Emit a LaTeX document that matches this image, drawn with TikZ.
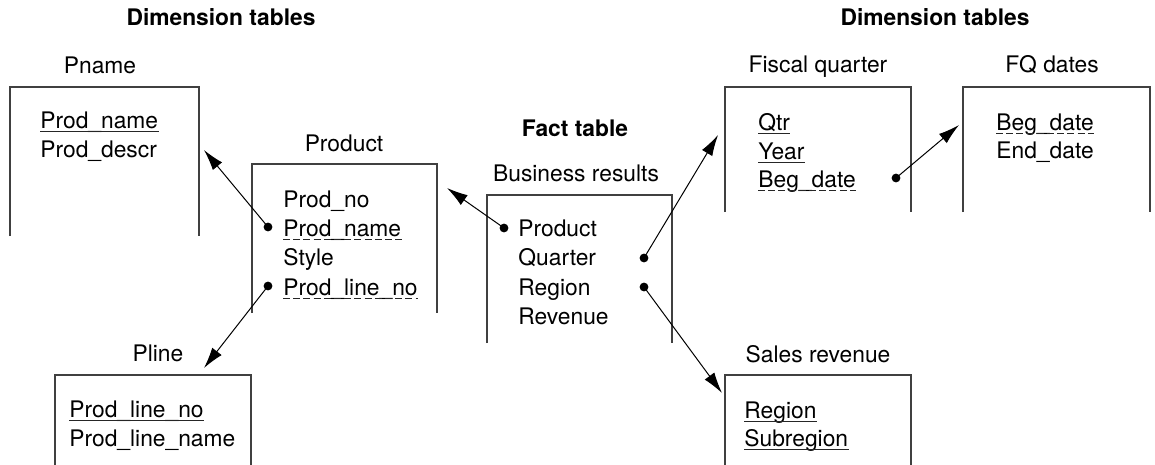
\documentclass[tikz,border=0pt]{standalone}
\usepackage{fontspec}
\setmainfont{TeX Gyre Heros}
\usetikzlibrary{arrows.meta,calc,positioning}

\begin{document}
\begin{tikzpicture}[x=0.5pt, y=-0.5pt, font=\fontsize{11.4}{13}\selectfont,
  box/.style={line width=0.6pt, black!75},
  fld/.style={anchor=base west, inner sep=0pt},
  ttl/.style={anchor=base, inner sep=0pt},
  head/.style={anchor=base, inner sep=0pt, font=\fontsize{11.4}{13}\selectfont\bfseries},
  key/.style={line width=0.5pt, black!85},
  fkey/.style={line width=0.5pt, black!85, dash pattern=on 3.5pt off 1.6pt},
  dot/.style={circle, fill, inner sep=0pt, minimum size=4.4pt},
  link/.style={-{Latex[length=10.5pt,width=6pt]}, line width=0.5pt}]
\useasboundingbox (0,0) rectangle (1155,465);

% Headings
\node[head] (dimL) at (221,26) {Dimension tables};
\node[head] (dimR) at (935,26) {Dimension tables};
\node[head] (fact) at (575,136) {Fact table};

% Pname
\node[ttl] (pnameT) at (100,74) {Pname};
\draw[box] (10,236) -- (10,87) -- (199,87) -- (199,236);
\node[fld] (pn1) at (40,128) {Prod\_name};
\node[fld] (pn2) at (40,157) {Prod\_descr};
\draw[key] ([yshift=-1.5pt]pn1.base west) -- ([yshift=-1.5pt]pn1.base east);
\coordinate (pnameIn) at (204,150);

% Product
\node[ttl] (prodT) at (344,151) {Product};
\draw[box] (252,313) -- (252,164) -- (437,164) -- (437,313);
\node[fld] (pr1) at (283,207) {Prod\_no};
\node[fld] (pr2) at (283,236) {Prod\_name};
\node[fld] (pr3) at (283,265) {Style};
\node[fld] (pr4) at (283,295) {Prod\_line\_no};
\draw[fkey] ([yshift=-1.5pt]pr2.base west) -- ([yshift=-1.5pt]pr2.base east);
\draw[fkey] ([yshift=-1.5pt]pr4.base west) -- ([yshift=-1.5pt]pr4.base east);
\node[dot] (dpr2) at (268,227) {};
\node[dot] (dpr4) at (268,286) {};
\coordinate (prodIn) at (447,188);

% Pline
\node[ttl] (plineT) at (158,361) {Pline};
\draw[box] (55,465) -- (55,375) -- (251,375) -- (251,465);
\node[fld] (pl1) at (69,417) {Prod\_line\_no};
\node[fld] (pl2) at (69,446) {Prod\_line\_name};
\draw[key] ([yshift=-1.5pt]pl1.base west) -- ([yshift=-1.5pt]pl1.base east);
\coordinate (plineIn) at (204,368);

% Business results
\node[ttl] (busT) at (576,181) {Business results};
\draw[box] (487,343) -- (487,195) -- (672,195) -- (672,343);
\node[fld] (br1) at (518,236) {Product};
\node[fld] (br2) at (518,265) {Quarter};
\node[fld] (br3) at (518,295) {Region};
\node[fld] (br4) at (518,324) {Revenue};
\node[dot] (dbr1) at (504,228) {};
\node[dot] (dbr2) at (644,258) {};
\node[dot] (dbr3) at (644,287) {};

% Fiscal quarter
\node[ttl] (fqT) at (818,73) {Fiscal quarter};
\draw[box] (725,212) -- (725,87) -- (911,87) -- (911,212);
\node[fld] (fq1) at (758,130) {Qtr};
\node[fld] (fq2) at (758,159) {Year};
\node[fld] (fq3) at (758,187) {Beg\_date};
\draw[key] ([yshift=-1.5pt]fq1.base west) -- ([yshift=-1.5pt]fq1.base east);
\draw[key] ([yshift=-1.5pt]fq2.base west) -- ([yshift=-1.5pt]fq2.base east);
\draw[fkey] ([yshift=-1.5pt]fq3.base west) -- ([yshift=-1.5pt]fq3.base east);
\node[dot] (dfq3) at (896,178) {};
\coordinate (fqIn) at (718,135);

% FQ dates
\node[ttl] (fdT) at (1052,73) {FQ dates};
\draw[box] (963,212) -- (963,87) -- (1150,87) -- (1150,212);
\node[fld] (fd1) at (996,130) {Beg\_date};
\node[fld] (fd2) at (996,158) {End\_date};
\draw[fkey] ([yshift=-1.5pt]fd1.base west) -- ([yshift=-1.5pt]fd1.base east);
\coordinate (fdIn) at (959,125);

% Sales revenue
\node[ttl] (srT) at (818,362) {Sales revenue};
\draw[box] (725,465) -- (725,375) -- (911,375) -- (911,465);
\node[fld] (sr1) at (744,418) {Region};
\node[fld] (sr2) at (744,446) {Subregion};
\draw[key] ([yshift=-1.5pt]sr1.base west) -- ([yshift=-1.5pt]sr1.base east);
\draw[key] ([yshift=-1.5pt]sr2.base west) -- ([yshift=-1.5pt]sr2.base east);
\coordinate (srIn) at (722,393);

% Links
\draw[link] (dpr2.center) -- (pnameIn);
\draw[link] (dpr4.center) -- (plineIn);
\draw[link] (dbr1.center) -- (prodIn);
\draw[link] (dbr2.center) -- (fqIn);
\draw[link] (dbr3.center) -- (srIn);
\draw[link] (dfq3.center) -- (fdIn);
\end{tikzpicture}
\end{document}
